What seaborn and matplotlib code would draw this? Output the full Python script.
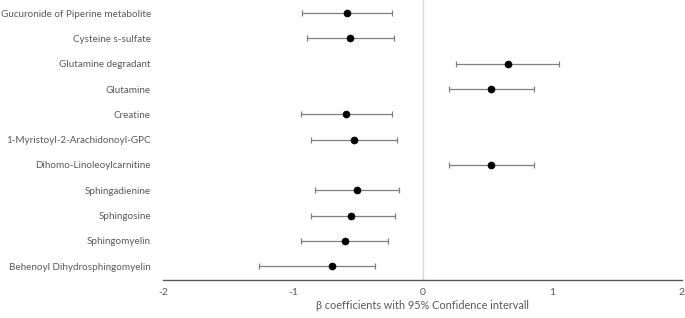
import pandas as pd
import matplotlib
matplotlib.use("Agg")
import matplotlib.pyplot as plt
import seaborn as sns

# --- data ---
metabolites = [
    "Gucuronide of Piperine metabolite",
    "Cysteine s-sulfate",
    "Glutamine degradant",
    "Glutamine",
    "Creatine",
    "1-Myristoyl-2-Arachidonoyl-GPC",
    "Dihomo-Linoleoylcarnitine",
    "Sphingadienine",
    "Sphingosine",
    "Sphingomyelin",
    "Behenoyl Dihydrosphingomyelin",
]
beta = [-0.58, -0.56, 0.66, 0.53, -0.59, -0.53, 0.53, -0.51, -0.55, -0.60, -0.70]
ci_low = [-0.93, -0.89, 0.26, 0.20, -0.94, -0.86, 0.20, -0.83, -0.86, -0.94, -1.26]
ci_high = [-0.24, -0.22, 1.05, 0.86, -0.24, -0.20, 0.86, -0.18, -0.21, -0.27, -0.37]
x_ticks = [-2, -1, 0, 1, 2]
x_label = "\u03b2 coefficients with 95% Confidence intervall"

df = pd.DataFrame({"metabolite": metabolites, "beta": beta,
                   "lo": ci_low, "hi": ci_high})

sns.set_style("white")
plt.rcParams["font.family"] = ["Lato", "DejaVu Sans"]
text_grey = "#595959"

fig = plt.figure(figsize=(6.85, 3.18), dpi=100)
ax = fig.add_axes([0.2385, 0.1195, 0.757, 0.8805])

# zero reference line
ax.axvline(0, color="#d9d9d9", lw=1, zorder=0)

# confidence intervals
ypos = list(range(len(df)))
ax.errorbar(df["beta"], ypos,
            xerr=[df["beta"] - df["lo"], df["hi"] - df["beta"]],
            fmt="none", ecolor="#7f7f7f", elinewidth=0.9,
            capsize=2.2, capthick=0.9, zorder=1)

# point estimates
sns.scatterplot(data=df, x="beta", y="metabolite", ax=ax,
                color="black", s=26, edgecolor="black", zorder=2)

ax.set_xlim(-2, 2)
ax.set_ylim(len(df) - 0.45, -0.52)
ax.set_xticks(x_ticks)
ax.set_xticklabels([str(t) for t in x_ticks])
ax.set_xlabel(x_label, fontsize=7.8, color=text_grey, labelpad=2)
ax.set_ylabel("")

for s in ["top", "right", "left"]:
    ax.spines[s].set_visible(False)
ax.spines["bottom"].set_color("#595959")
ax.spines["bottom"].set_linewidth(1.0)
ax.tick_params(axis="x", direction="out", length=3, width=1,
               color="#595959", labelsize=7.5, labelcolor=text_grey, pad=3)
ax.tick_params(axis="y", length=0, labelsize=7.1, labelcolor=text_grey, pad=9)

fig.savefig("out.png", dpi=100)
